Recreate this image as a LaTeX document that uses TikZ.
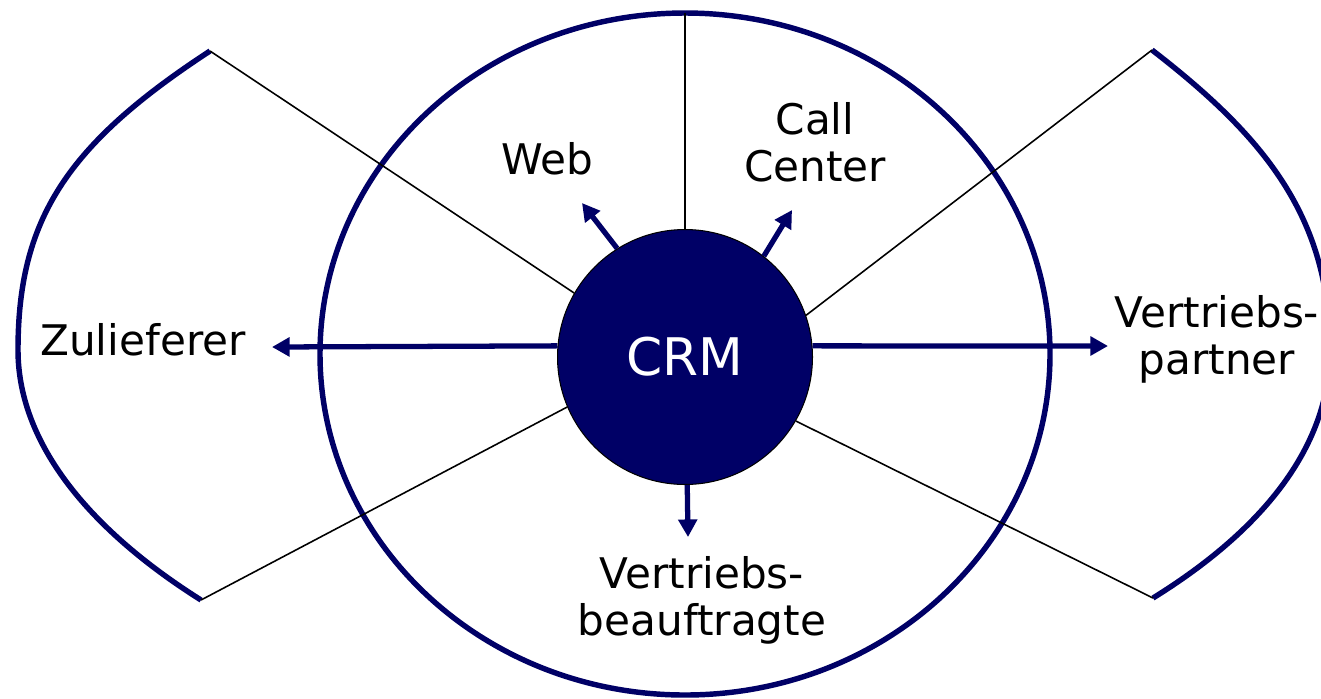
\documentclass[tikz,border=0pt]{standalone}
\usepackage{fontspec}
\setmainfont{DejaVu Sans}
\usetikzlibrary{arrows.meta}
\definecolor{navy}{RGB}{0,0,102}
\begin{document}
\begin{tikzpicture}[x=0.02cm,y=-0.02cm,
  outline/.style={line width=3.1pt, draw=navy},
  thinline/.style={line width=0.9pt, draw=black},
  flow/.style={line width=3pt, draw=navy, -{Triangle[length=10pt,width=10.5pt]}},
  txt/.style={font=\fontsize{24}{27}\selectfont, text=black, inner sep=0pt, align=center},
]
\useasboundingbox (0,0) rectangle (1321,698);
\fill[white] (0,0) rectangle (1321,698);
\clip (0,0) rectangle (1321,698);

% named end points
\coordinate (LT) at (210,51);
\coordinate (LB) at (201,600);
\coordinate (RT) at (1152,50);
\coordinate (RB) at (1153,598);
\coordinate (TOP) at (685,13);
\coordinate (tipL) at (272,347);
\coordinate (tipR) at (1108,346);
\coordinate (tipD) at (688,537);
\coordinate (tipW) at (582,203);
\coordinate (tipC) at (792,210);

% big ellipse
\draw[outline] (685,354) ellipse [x radius=365, y radius=341];

% side arcs
\draw[outline] (LT) .. controls (66,145) and (18,220) .. (18,350)
                    .. controls (18,438) and (82,525) .. (LB);
\draw[outline] (RT) .. controls (1262,135) and (1330,215) .. (1330,350)
                    .. controls (1330,438) and (1274,523) .. (RB);

% CRM circle
\node[circle, fill=navy, draw=black, line width=0.6pt, minimum size=5.1cm,
      inner sep=0pt, text=white, font=\fontsize{29.5}{32}\selectfont] (crm) at (685,357) {CRM};

% thin dividing lines
\draw[thinline] (LT) -- (crm.150.4);
\draw[thinline] (LB) -- (crm.203);
\draw[thinline] (RT) -- (crm.19.8);
\draw[thinline] (RB) -- (crm.-30.3);
\draw[thinline] (TOP) -- (crm.north);

% arrows
\draw[flow] (crm.175) -- (tipL);
\draw[flow] (crm.5) -- (tipR);
\draw[flow] (crm.-89.5) -- (tipD);
\draw[flow] (crm.122) -- (tipW);
\draw[flow] (crm.52) -- (tipC);

% labels
\node[txt, anchor=base] (web) at (547,174) {Web};
\node[txt, anchor=north] (call) at (815,102) {Call\\Center};
\node[txt, anchor=base] (zul) at (143,355) {Zulieferer};
\node[txt, anchor=north] (vp) at (1217,295) {Vertriebs-\\partner};
\node[txt, anchor=north] (vb) at (702,556) {Vertriebs-\\beauftragte};
\end{tikzpicture}
\end{document}
